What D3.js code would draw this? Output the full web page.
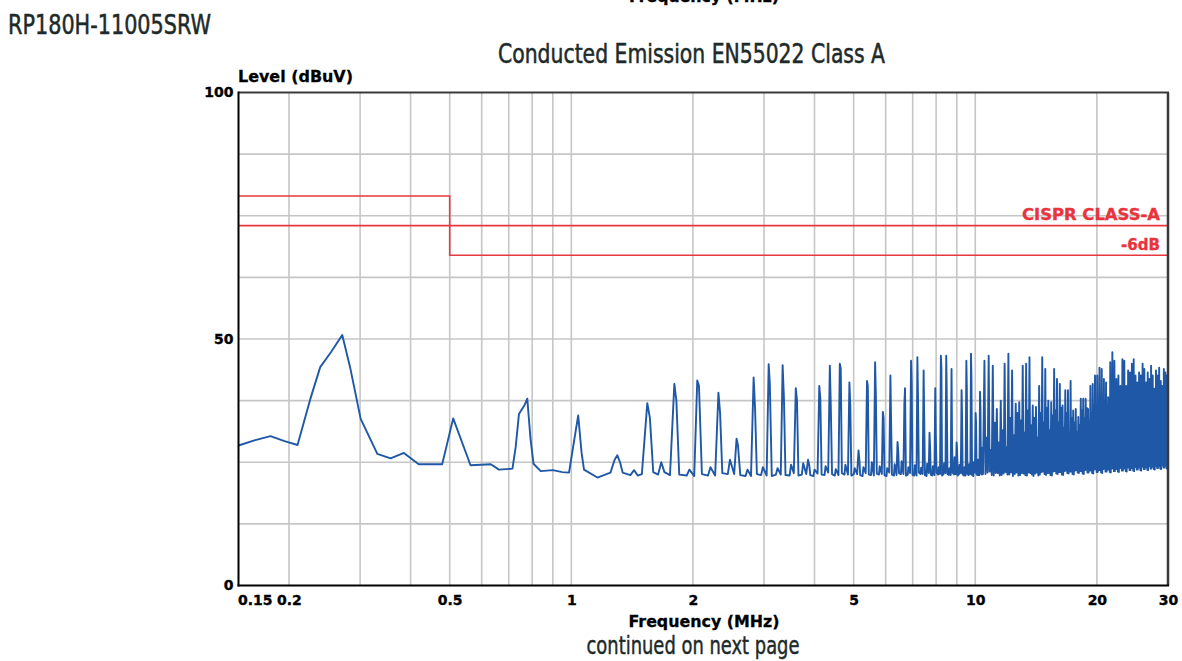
<!DOCTYPE html>
<html><head><meta charset="utf-8">
<script src="https://cdn.jsdelivr.net/npm/d3@7"></script>
<style>
html,body{margin:0;padding:0;background:#fff;}
svg{display:block;}
</style></head>
<body>
<svg id="chart" width="1182" height="661"></svg>
<script>
// ---------- data ----------
const xTickValues = [0.15, 0.2, 0.5, 1, 2, 5, 10, 20, 30];
const xTickLabels = ["0.15", "0.2", "0.5", "1", "2", "5", "10", "20", "30"];
const xGridValues = [0.2, 0.3, 0.4, 0.5, 0.6, 0.7, 0.8, 0.9, 1, 2, 3, 4, 5, 6, 7, 8, 9, 10, 20];
const yTickValues = [0, 50, 100];
const yTickLabels = ["0", "50", "100"];
const yGridValues = [12.5, 25, 37.5, 50, 62.5, 75, 87.5];

const limitFreq = [0.15, 0.5, 0.5, 30];
const limitClassA = [79, 79, 73, 73];
const limitMinus6 = [73, 73, 67, 67];

// measured trace [MHz, dBuV]
const traceLowBand = [
  [0.150,28.4],[0.165,29.5],[0.180,30.3],[0.195,29.3],[0.210,28.5],[0.226,37.9],[0.239,44.3],
  [0.254,47.3],[0.271,50.8],[0.284,43.9],[0.301,33.8],[0.331,26.7],[0.357,25.8],[0.385,26.9],
  [0.419,24.6],[0.479,24.6],[0.510,33.9],[0.563,24.4],[0.632,24.6],[0.662,23.5],[0.715,23.7],
  [0.728,28.0],[0.742,34.8],[0.765,36.5],[0.778,37.9],[0.792,30.0],[0.806,24.7],[0.840,23.2],
  [0.900,23.4],[0.950,23.0],[0.987,22.9],[1.010,28.0],[1.040,34.5],[1.060,27.0],[1.075,23.5],
  [1.160,21.9],[1.250,22.9],[1.280,25.5],[1.300,26.4],[1.320,25.0],[1.340,22.9],[1.400,22.4],
  [1.430,23.4],[1.460,22.3]
];
const traceMidBand = [
  [1.495,22.6],[1.542,37.0],[1.565,34.0],[1.595,23.0],[1.640,22.5],[1.670,25.0],[1.700,23.0],
  [1.755,22.4],[1.799,40.9],[1.820,37.5],[1.850,22.5],[1.930,22.3],[1.960,23.5],
  [2.015,22.2],[2.050,41.6],[2.070,40.5],[2.105,22.6],[2.180,22.3],[2.210,24.0],
  [2.270,22.3],[2.313,39.1],[2.335,35.0],[2.365,22.8],[2.440,22.6],[2.470,25.5],
  [2.530,22.6],[2.565,29.8],[2.585,28.5],[2.620,22.4],[2.700,22.2],[2.730,23.5],
  [2.785,22.2],[2.827,42.2],[2.850,36.0],[2.880,22.6],[2.950,22.4],[2.980,24.0],
  [3.045,22.3],[3.080,44.9],[3.100,41.0],[3.135,22.2],[3.210,22.5],[3.240,23.8],
  [3.300,22.5],[3.335,44.7],[3.360,38.0],[3.390,22.4],[3.470,22.3],[3.500,24.5],
  [3.555,22.8],[3.595,40.0],[3.620,37.5],[3.650,22.3],[3.720,22.5],[3.750,24.8],
  [3.815,22.6],[3.855,25.5],[3.880,24.5],[3.905,22.4],[3.975,22.2],[4.000,23.5],
  [4.070,22.7],[4.110,40.5],[4.135,37.9],[4.165,22.5],[4.235,22.4],[4.260,24.2],
  [4.325,22.9],[4.365,44.6],[4.390,36.0],[4.420,22.6],[4.490,22.3],[4.515,23.6],
  [4.585,22.4],[4.620,45.0],[4.645,44.0],[4.675,22.8],[4.745,22.5],[4.770,24.5],
  [4.840,22.5],[4.880,41.2],[4.905,36.5],[4.935,22.3],[5.005,22.6],[5.030,23.8],
  [5.100,22.6],[5.140,27.4],[5.165,25.5],[5.190,22.4],[5.260,22.2],[5.285,24.0],
  [5.355,22.8],[5.395,41.5],[5.420,40.5],[5.450,22.5],[5.520,22.4],[5.545,25.0],
  [5.610,22.3],[5.650,45.3],[5.675,38.5],[5.705,22.7],[5.775,22.5],[5.800,24.2],
  [5.870,22.6],[5.905,35.2],[5.930,34.0],[5.960,22.4],[6.030,22.2],[6.055,23.8],
  [6.125,22.9],[6.165,42.6],[6.190,33.0],[6.220,22.5],[6.290,22.3],[6.315,24.6],
  [6.385,22.4],[6.420,29.1],[6.445,27.5],[6.475,22.8],[6.545,22.6],[6.570,25.2],
  [6.640,22.6],[6.675,36.8],[6.700,40.0],[6.735,22.3],[6.805,22.5],[6.830,24.0],
  [6.895,22.8],[6.935,45.6],[6.960,41.0],[6.990,22.5],[7.060,22.3],[7.085,24.4],
  [7.155,22.3],[7.190,46.3],[7.215,37.9],[7.250,22.9],[7.320,22.6],[7.345,23.9],
  [7.410,22.6],[7.450,43.6],[7.475,33.8],[7.505,22.4],[7.575,22.2],[7.600,24.7],
  [7.670,22.8],[7.705,31.0],[7.730,28.0],[7.760,22.5],[7.830,22.3],[7.855,24.2],
  [7.925,22.4],[7.960,40.0],[7.985,30.5],[8.020,22.9],[8.090,22.5],[8.115,24.0],
  [8.180,22.6],[8.220,46.6],[8.245,44.0],[8.275,22.3],[8.345,22.6],[8.370,24.8],
  [8.440,22.8],[8.475,46.6],[8.500,39.0],[8.535,22.6],[8.605,22.4],[8.630,23.8],
  [8.695,22.4],[8.735,43.9],[8.760,29.0],[8.790,22.9],[8.860,22.5],[8.885,26.0],
  [8.955,22.6],[8.990,29.0],[9.015,27.5],[9.045,22.3],[9.115,22.6],[9.140,24.5],
  [9.210,22.8],[9.250,39.6],[9.275,34.1],[9.305,22.5],[9.375,22.3],[9.400,24.0],
  [9.465,22.3],[9.505,45.6],[9.530,40.0],[9.560,22.7],[9.630,22.4],[9.655,24.6],
  [9.725,22.6],[9.760,47.0],[9.785,42.0],[9.820,22.4],[9.890,22.2],[9.915,25.0],
  [9.980,22.9],[10.020,35.0],[10.045,33.0],[10.075,22.5],[10.145,22.4],[10.170,25.5],
  [10.240,22.4],[10.275,39.3],[10.300,36.0],[10.330,22.8],[10.400,22.5],[10.425,28.0],[10.450,22.6]
];
const traceHighBand = [
  [10.537,45.6],[10.597,22.6],[10.667,30.0],[10.727,22.9],
  [10.794,46.6],[10.854,23.1],[10.924,27.5],[10.984,22.4],
  [11.051,44.6],[11.111,22.3],[11.181,33.0],[11.241,22.8],
  [11.308,35.8],[11.368,22.8],[11.438,29.0],[11.498,22.3],
  [11.565,37.5],[11.625,22.4],[11.695,31.5],[11.755,22.7],
  [11.822,45.0],[11.882,23.0],[11.952,28.0],[12.012,22.5],
  [12.079,47.0],[12.139,22.5],[12.209,34.0],[12.269,22.9],
  [12.336,43.6],[12.396,22.2],[12.466,30.5],[12.526,22.6],
  [12.593,36.9],[12.653,22.9],[12.723,35.0],[12.783,22.3],
  [12.850,37.2],[12.910,22.4],[12.980,33.5],[13.040,22.8],
  [13.107,44.6],[13.167,22.7],[13.237,31.0],[13.297,22.4],
  [13.364,45.0],[13.424,22.3],[13.494,35.5],[13.554,22.9],
  [13.621,46.3],[13.681,22.8],[13.751,32.5],[13.811,22.5],
  [13.878,36.5],[13.938,22.2],[14.008,34.0],[14.068,22.7],
  [14.135,36.2],[14.195,22.9],[14.265,30.0],[14.325,22.3],
  [14.392,40.5],[14.452,22.5],[14.522,35.0],[14.582,23.0],
  [14.649,46.3],[14.709,23.1],[14.779,33.0],[14.839,22.6],
  [14.906,43.9],[14.966,22.4],[15.036,36.0],[15.096,22.8],
  [15.163,37.5],[15.223,22.8],[15.293,31.5],[15.353,22.4],
  [15.420,37.2],[15.480,22.3],[15.550,34.5],[15.610,23.1],
  [15.677,43.9],[15.737,23.2],[15.807,35.5],[15.867,22.7],
  [15.934,41.9],[15.994,22.6],[16.064,33.0],[16.124,23.0],
  [16.191,40.9],[16.251,23.0],[16.321,36.0],[16.381,22.5],
  [16.448,36.5],[16.508,22.4],[16.578,32.0],[16.638,23.2],
  [16.705,39.6],[16.765,23.3],[16.835,35.0],[16.895,22.8],
  [16.962,39.6],[17.022,22.7],[17.092,30.5],[17.152,23.1],
  [17.219,41.5],[17.279,23.1],[17.349,34.0],[17.409,22.6],
  [17.476,35.5],[17.536,22.5],[17.606,33.0],[17.666,23.3],
  [17.733,35.8],[17.793,23.4],[17.863,31.0],[17.923,22.9],
  [17.990,34.2],[18.050,22.8],[18.120,32.5],[18.180,23.2],
  [18.247,37.9],[18.307,23.2],[18.377,35.5],[18.437,22.7],
  [18.504,37.9],[18.564,22.6],[18.634,34.0],[18.694,23.4],
  [18.761,37.9],[18.821,23.5],[18.891,36.0],[18.951,22.9],
  [19.018,35.8],[19.078,22.9],[19.148,33.5],[19.208,23.3],
  [19.275,40.5],[19.335,23.3],[19.405,35.0],[19.465,22.8],
  [19.532,40.9],[19.592,22.7],[19.662,36.5],[19.722,23.5],
  [19.789,42.6],[19.849,23.6],[19.919,34.0],[19.979,23.0],
  [20.046,42.6],[20.106,23.0],[20.176,36.0],[20.236,23.4],
  [20.303,44.2],[20.363,23.4],[20.433,35.5],[20.493,22.9],
  [20.560,43.9],[20.620,22.8],[20.690,37.0],[20.750,23.6],
  [20.817,41.9],[20.877,23.7],[20.947,34.5],[21.007,23.1],
  [21.074,41.2],[21.134,23.1],[21.204,36.5],[21.264,23.5],
  [21.331,38.2],[21.391,23.5],[21.461,35.0],[21.521,23.0],
  [21.588,45.3],[21.648,22.9],[21.718,37.5],[21.778,23.7],
  [21.845,47.3],[21.905,23.8],[21.975,36.0],[22.035,23.2],
  [22.102,45.6],[22.162,23.2],[22.232,37.0],[22.292,23.6],
  [22.359,41.9],[22.419,23.6],[22.489,35.5],[22.549,23.1],
  [22.616,42.6],[22.676,23.0],[22.746,36.5],[22.806,23.8],
  [22.873,40.5],[22.933,23.9],[23.003,34.0],[23.063,23.3],
  [23.130,45.9],[23.190,23.3],[23.260,37.5],[23.320,23.7],
  [23.387,45.6],[23.447,23.7],[23.517,36.0],[23.577,23.2],
  [23.644,40.5],[23.704,23.1],[23.774,35.0],[23.834,23.9],
  [23.901,43.6],[23.961,24.0],[24.031,37.0],[24.091,23.4],
  [24.158,43.2],[24.218,23.4],[24.288,36.0],[24.348,23.8],
  [24.415,45.0],[24.475,23.8],[24.545,38.0],[24.605,23.3],
  [24.672,45.9],[24.732,23.2],[24.802,36.5],[24.862,24.0],
  [24.929,42.6],[24.989,24.1],[25.059,35.5],[25.119,23.5],
  [25.186,41.2],[25.246,23.5],[25.316,37.0],[25.376,23.9],
  [25.443,43.2],[25.503,23.9],[25.573,36.0],[25.633,23.4],
  [25.700,42.6],[25.760,23.3],[25.830,37.5],[25.890,24.1],
  [25.957,45.0],[26.017,24.2],[26.087,36.5],[26.147,23.6],
  [26.214,43.9],[26.274,23.6],[26.344,35.0],[26.404,24.0],
  [26.471,41.2],[26.531,24.0],[26.601,37.0],[26.661,23.5],
  [26.728,43.2],[26.788,23.4],[26.858,36.0],[26.918,24.2],
  [26.985,41.9],[27.045,24.3],[27.115,38.0],[27.175,23.7],
  [27.242,44.6],[27.302,23.7],[27.372,36.5],[27.432,24.1],
  [27.499,42.6],[27.559,24.1],[27.629,35.5],[27.689,23.6],
  [27.756,39.9],[27.816,23.5],[27.886,37.0],[27.946,24.3],
  [28.013,43.6],[28.073,24.4],[28.143,36.0],[28.203,23.8],
  [28.270,42.6],[28.330,23.8],[28.400,37.5],[28.460,24.2],
  [28.527,44.2],[28.587,24.2],[28.657,36.0],[28.717,23.7],
  [28.784,41.5],[28.844,23.6],[28.914,35.0],[28.974,24.4],
  [29.041,40.5],[29.101,24.5],[29.171,37.0],[29.231,23.9],
  [29.298,43.9],[29.358,23.9],[29.428,36.5],[29.488,24.3],
  [29.555,43.2],[29.615,24.3],[29.685,35.5],[29.745,23.8],
  [29.812,42.6],[29.872,23.7],[29.942,37.0],[30.000,24.1]
];

// ---------- drawing ----------
const svg = d3.select("#chart");
const x = d3.scaleLog().domain([0.15, 30]).range([238.5, 1168]);
const y = d3.scaleLinear().domain([0, 100]).range([585.5, 92.5]);

const titleFont = "'Liberation Sans Narrow','Arial Narrow','DejaVu Sans Condensed','Roboto',sans-serif";
const axisFont = "'DejaVu Sans','Verdana',sans-serif";
const titleColor = "#1d2a2a";

// cut-off label from the chart above
svg.append("text").attr("x", 704).attr("y", 1.5).attr("text-anchor", "middle")
  .attr("font-family", axisFont).attr("font-weight", "bold").attr("font-size", 16)
  .attr("stroke", "#000").attr("stroke-width", 0.3)
  .attr("textLength", 150).attr("lengthAdjust", "spacingAndGlyphs")
  .text("Frequency (MHz)");

svg.append("text").attr("x", 8).attr("y", 33.5)
  .attr("font-family", titleFont).attr("font-size", 27).attr("fill", titleColor)
  .attr("stroke", titleColor).attr("stroke-width", 0.5)
  .attr("textLength", 203).attr("lengthAdjust", "spacingAndGlyphs")
  .text("RP180H-11005SRW");

svg.append("text").attr("x", 498).attr("y", 62.7)
  .attr("font-family", titleFont).attr("font-size", 27).attr("fill", titleColor)
  .attr("stroke", titleColor).attr("stroke-width", 0.5)
  .attr("textLength", 387).attr("lengthAdjust", "spacingAndGlyphs")
  .text("Conducted Emission EN55022 Class A");

// grid
const grid = svg.append("g").attr("stroke", "#c6c6c6").attr("stroke-width", 1.6);
grid.selectAll("line.v").data(xGridValues).join("line").attr("class", "v")
  .attr("x1", d => x(d)).attr("x2", d => x(d)).attr("y1", y(0)).attr("y2", y(100));
grid.selectAll("line.h").data(yGridValues).join("line").attr("class", "h")
  .attr("x1", x(0.15)).attr("x2", x(30)).attr("y1", d => y(d)).attr("y2", d => y(d));

// limit lines
const limLine = d3.line().x(d => x(d[0])).y(d => y(d[1]));
const classA = limitFreq.map((f, i) => [f, limitClassA[i]]);
const minus6 = limitFreq.map((f, i) => [f, limitMinus6[i]]);
svg.append("path").attr("d", limLine(classA)).attr("fill", "none")
  .attr("stroke", "#e8383f").attr("stroke-width", 1.6);
svg.append("path").attr("d", limLine(minus6)).attr("fill", "none")
  .attr("stroke", "#e8383f").attr("stroke-width", 1.6);

svg.append("text").attr("x", 1160).attr("y", 220).attr("text-anchor", "end")
  .attr("font-family", axisFont).attr("font-weight", "bold").attr("font-size", 16)
  .attr("fill", "#e8343c").attr("stroke", "#e8343c").attr("stroke-width", 0.35)
  .attr("textLength", 138).attr("lengthAdjust", "spacingAndGlyphs")
  .text("CISPR CLASS-A");
svg.append("text").attr("x", 1160).attr("y", 250).attr("text-anchor", "end")
  .attr("font-family", axisFont).attr("font-weight", "bold").attr("font-size", 16)
  .attr("fill", "#e8343c").attr("stroke", "#e8343c").attr("stroke-width", 0.35)
  .attr("textLength", 39).attr("lengthAdjust", "spacingAndGlyphs")
  .text("-6dB");

// measured trace
const trace = traceLowBand.concat(traceMidBand, traceHighBand);
const traceLine = d3.line().x(d => x(d[0])).y(d => y(d[1]));
svg.append("path").attr("d", traceLine(trace)).attr("fill", "none")
  .attr("stroke", "#1f58a6").attr("stroke-width", 1.9).attr("stroke-linejoin", "round");

// frame
const frame = svg.append("g");
frame.append("line").attr("x1", x(0.15)).attr("x2", x(30) + 1).attr("y1", y(100)).attr("y2", y(100))
  .attr("stroke", "#3a3a3a").attr("stroke-width", 2);
frame.append("line").attr("x1", x(30)).attr("x2", x(30)).attr("y1", y(100)).attr("y2", y(0))
  .attr("stroke", "#3a3a3a").attr("stroke-width", 2.5);
frame.append("line").attr("x1", x(0.15)).attr("x2", x(0.15)).attr("y1", y(100) - 1).attr("y2", y(0) + 1)
  .attr("stroke", "#000").attr("stroke-width", 2);
frame.append("line").attr("x1", x(0.15) - 1).attr("x2", x(30) + 1).attr("y1", y(0)).attr("y2", y(0))
  .attr("stroke", "#000").attr("stroke-width", 2);

// axes
const xAxis = d3.axisBottom(x).tickValues(xTickValues)
  .tickFormat((d, i) => xTickLabels[i]).tickSize(0).tickPadding(10);
const gx = svg.append("g").attr("transform", `translate(0,${y(0)})`).call(xAxis);
gx.select(".domain").remove();
gx.selectAll("text").attr("font-family", axisFont).attr("font-weight", "bold")
  .attr("font-size", 14).attr("fill", "#000").attr("stroke", "#000").attr("stroke-width", 0.35);
gx.selectAll(".tick").filter(d => d === 0.15).select("text")
  .attr("text-anchor", "start").attr("x", -1);

const yAxis = d3.axisLeft(y).tickValues(yTickValues)
  .tickFormat((d, i) => yTickLabels[i]).tickSize(0).tickPadding(5);
const gy = svg.append("g").attr("transform", `translate(${x(0.15)},0)`).call(yAxis);
gy.select(".domain").remove();
gy.selectAll("text").attr("font-family", axisFont).attr("font-weight", "bold")
  .attr("font-size", 14).attr("fill", "#000").attr("stroke", "#000").attr("stroke-width", 0.35);

// axis titles
svg.append("text").attr("x", 238).attr("y", 81.5)
  .attr("font-family", axisFont).attr("font-weight", "bold").attr("font-size", 16)
  .attr("stroke", "#000").attr("stroke-width", 0.3)
  .attr("textLength", 115).attr("lengthAdjust", "spacingAndGlyphs")
  .text("Level (dBuV)");
svg.append("text").attr("x", 704).attr("y", 627).attr("text-anchor", "middle")
  .attr("font-family", axisFont).attr("font-weight", "bold").attr("font-size", 16)
  .attr("stroke", "#000").attr("stroke-width", 0.3)
  .attr("textLength", 151).attr("lengthAdjust", "spacingAndGlyphs")
  .text("Frequency (MHz)");

svg.append("text").attr("x", 693).attr("y", 653.5).attr("text-anchor", "middle")
  .attr("font-family", titleFont).attr("font-size", 25).attr("fill", titleColor)
  .attr("stroke", titleColor).attr("stroke-width", 0.45)
  .attr("textLength", 213).attr("lengthAdjust", "spacingAndGlyphs")
  .text("continued on next page");
</script>
</body></html>
